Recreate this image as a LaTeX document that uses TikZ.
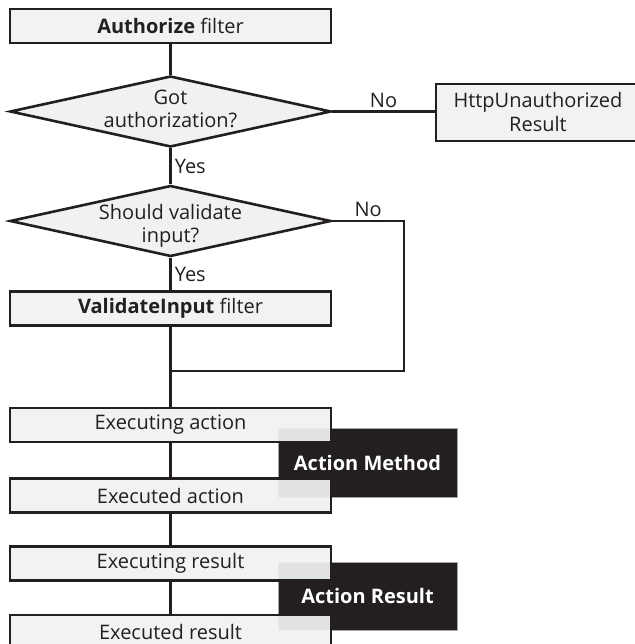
\documentclass[tikz,border=0pt]{standalone}
\usepackage{fontspec}
\setmainfont{Open Sans}
\usetikzlibrary{shapes.geometric}
\definecolor{boxfill}{HTML}{F0F1F2}
\definecolor{ink}{HTML}{231F20}
\begin{document}
\begin{tikzpicture}[x=1pt,y=-1pt,
	stepbox/.style={rectangle,draw=ink,line width=2.6pt,fill=boxfill,fill opacity=0.93,text opacity=1,text=ink,minimum width=321pt,minimum height=34pt,inner sep=0pt},
	askbox/.style={diamond,draw=ink,line width=2.6pt,fill=boxfill,minimum width=321pt,minimum height=71pt,inner sep=0pt},
	darkbox/.style={rectangle,draw=gray!70,line width=0.8pt,fill=ink,text=white,font=\fontsize{20}{24}\selectfont\bfseries,minimum width=179pt,inner sep=0pt},
	conn/.style={draw=ink,line width=2.6pt},
	lbl/.style={text=ink,inner sep=3pt}]
	\useasboundingbox (0,0) rectangle (634,644);
	\fontsize{20}{24}\selectfont
	\node[darkbox,minimum height=69pt] (method) at (367.5,462.5) {Action Method};
	\node[darkbox,minimum height=68pt] (result) at (367.5,596) {Action Result};
	\begin{scope}[every label/.style={align=center,text=ink,inner sep=0pt,font=\fontsize{20}{23}\selectfont}]
	\node[stepbox] (auth) at (170.5,26) {\textbf{Authorize} filter};
	\node[askbox,label={[yshift=2.5pt]center:Got\\authorization?}] (got) at (170.5,111.5) {};
	\node[stepbox,minimum width=204pt,minimum height=57pt,align=center] (unauth) at (538,112.5) {HttpUnauthorized\\Result};
	\node[askbox,label={[yshift=-5pt]center:Should validate\\input?}] (validate) at (170.5,221) {};
	\node[stepbox] (vinput) at (170.5,308.5) {\textbf{ValidateInput} filter};
	\node[stepbox] (exingact) at (170.5,425) {Executing action};
	\node[stepbox] (exedact) at (170.5,495.5) {Executed action};
	\node[stepbox] (exingres) at (170.5,563.5) {Executing result};
	\node[stepbox] (exedres) at (170.5,632) {Executed result};
	\end{scope}
	\coordinate (join) at (170.5,371);
	\coordinate (skip) at (404,371);
	\draw[conn] (auth) -- (got);
	\draw[conn] (got) -- node[right,lbl]{Yes} (validate);
	\draw[conn] (got.east) -- node[above,lbl]{No} (got.east -| unauth.west);
	\draw[conn] (validate) -- node[right,lbl]{Yes} (vinput);
	\draw[conn] (validate.east) -- node[above,lbl]{No} (validate.east -| skip) -- (skip) -- (join);
	\draw[conn] (vinput) -- (exingact);
	\draw[conn] (exingact) -- (exedact);
	\draw[conn] (exedact) -- (exingres);
	\draw[conn] (exingres) -- (exedres);
\end{tikzpicture}
\end{document}
